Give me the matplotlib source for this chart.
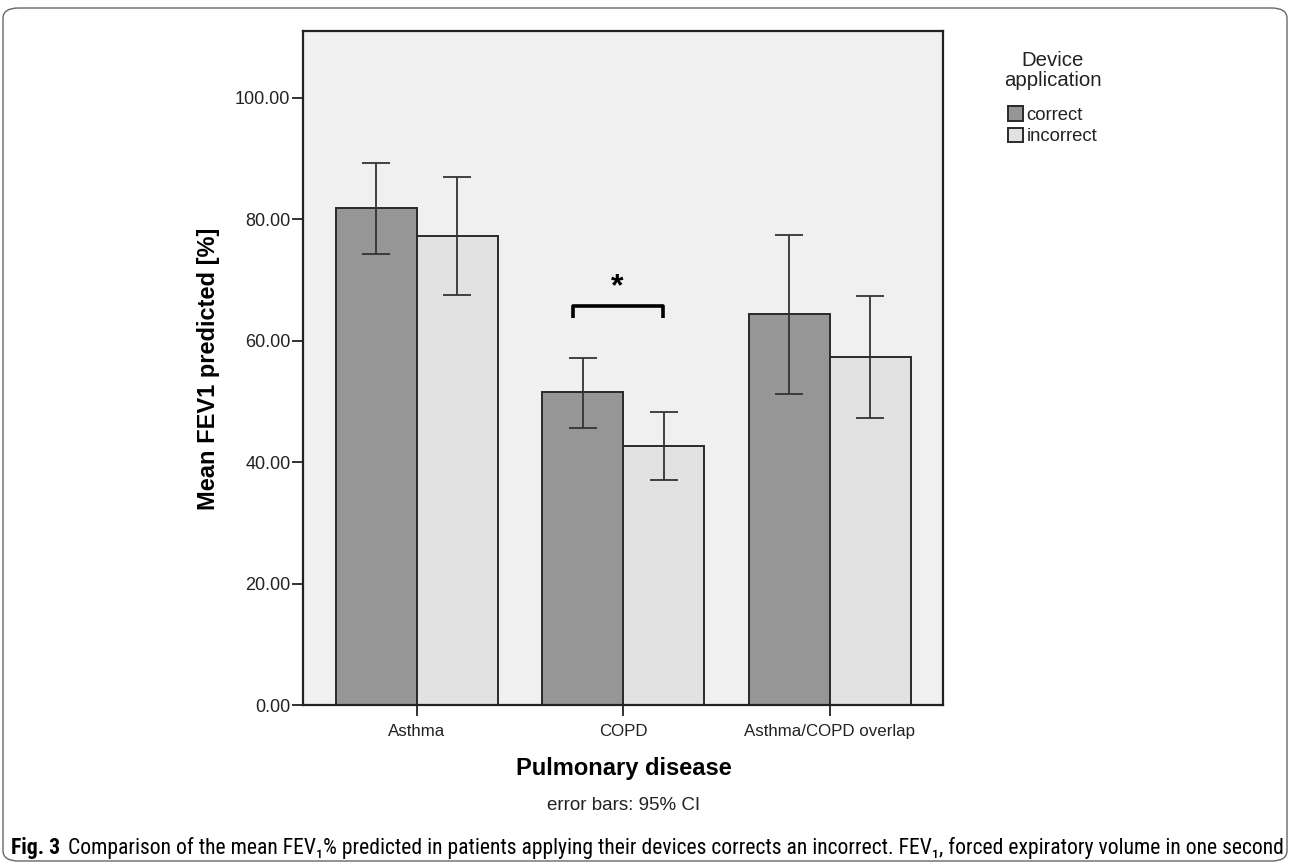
import matplotlib
matplotlib.use("Agg")
import matplotlib.pyplot as plt
import numpy as np
from matplotlib.patches import FancyBboxPatch, Patch

categories = ["Asthma", "COPD", "Asthma/COPD overlap"]
series = ["correct", "incorrect"]
means = {"correct": [81.9, 51.5, 64.4], "incorrect": [77.2, 42.7, 57.3]}
ci_low = {"correct": [74.3, 45.7, 51.3], "incorrect": [67.6, 37.0, 47.3]}
ci_high = {"correct": [89.2, 57.2, 77.4], "incorrect": [86.9, 48.2, 67.3]}
yticks = [0, 20, 40, 60, 80, 100]

colors = {"correct": "#969696", "incorrect": "#e2e2e2"}
FONT = ["Liberation Sans", "DejaVu Sans"]
W, H = 1290, 864
fig = plt.figure(figsize=(W / 100, H / 100), dpi=100)
fig.patch.set_facecolor("white")

ax = fig.add_axes([303 / W, 1 - 705 / H, (943 - 303) / W, (705 - 31) / H])
ax.set_facecolor("#f0f0f0")
x = np.arange(len(categories))
bw = 0.392
for i, s in enumerate(series):
    xs = x + (i - 0.5) * bw
    m = np.array(means[s])
    lo = m - np.array(ci_low[s])
    hi = np.array(ci_high[s]) - m
    ax.bar(xs, m, width=bw, color=colors[s], edgecolor="#2a2a2a", linewidth=1.4, zorder=2)
    ax.errorbar(xs, m, yerr=[lo, hi], fmt="none", ecolor="#333333", elinewidth=1.3,
                capsize=10, capthick=1.3, zorder=3)

ax.set_xlim(-0.552, 2.548)
ax.set_ylim(0, 111)
ax.set_yticks(yticks)
ax.set_yticklabels([f"{v:.2f}" for v in yticks], fontsize=13, color="#222222", family=FONT)
ax.set_xticks(x)
ax.set_xticklabels(categories, fontsize=12.2, color="#222222", family=FONT)
ax.tick_params(axis="both", length=8, width=1.3, color="#222222")
ax.tick_params(axis="x", pad=6)
ax.tick_params(axis="y", pad=1)
for sp in ax.spines.values():
    sp.set_linewidth(1.6)
    sp.set_color("#222222")

# significance bracket
ax.plot([0.755, 0.755, 1.19, 1.19], [63.8, 65.7, 65.7, 63.8], color="black", lw=2.6,
        solid_capstyle="butt", zorder=4)
ax.text(0.97, 66.3, "*", ha="center", va="bottom", fontsize=23, fontweight="bold", family=FONT)

fig.text(209 / W, 1 - 369 / H, "Mean FEV1 predicted [%]", rotation=90, ha="center", va="center",
         fontsize=17, fontweight="bold", family=FONT)
fig.text(624 / W, 1 - 769 / H, "Pulmonary disease", ha="center", va="center",
         fontsize=17, fontweight="bold", family=FONT)
fig.text(624 / W, 1 - 806 / H, "error bars: 95% CI", ha="center", va="center",
         fontsize=13.5, color="#222222", family=FONT)

handles = [Patch(facecolor=colors[s], edgecolor="#2a2a2a", linewidth=1.4) for s in series]
leg = fig.legend(handles, series, title="Device\napplication", loc="upper left",
                 bbox_to_anchor=(1004 / W, 1 - 51 / H), frameon=False,
                 handlelength=0.8, handleheight=0.8, handletextpad=0.2, labelspacing=0.2,
                 borderaxespad=0, borderpad=0,
                 prop={"family": FONT, "size": 13.3},
                 title_fontproperties={"family": FONT, "size": 14.7})
leg.get_title().set_color("#222222")
leg.get_title().set_multialignment("center")
leg.get_title().set_linespacing(1.05)
leg._legend_box.sep = 12
for t in leg.get_texts():
    t.set_color("#222222")

cap_font = ["Roboto Condensed", "Liberation Sans Narrow", "Liberation Sans", "DejaVu Sans"]
cap_rest = ("Comparison of the mean FEV\u2081% predicted in patients applying their devices corrects an incorrect. "
            "FEV\u2081, forced expiratory volume in one second")
cy = 1 - 848 / H
t1 = fig.text(11 / W, cy, "Fig. 3", ha="left", va="center", fontsize=13, fontweight="bold", family=cap_font)
t2 = fig.text(0, cy, cap_rest, ha="left", va="center", fontsize=13, family=cap_font)
fig.canvas.draw()
r = fig.canvas.get_renderer()
w1 = t1.get_window_extent(r).width
w2 = t2.get_window_extent(r).width
gap = 0.35 * 13 * 100 / 72
scale = (1282 - 11) / (w1 + w2 + gap)
fs = 13 * scale
t1.set_fontsize(fs)
t2.set_fontsize(fs)
fig.canvas.draw()
bb = t1.get_window_extent(r)
t2.set_x((bb.x1 + 0.35 * fs * 100 / 72) / W)

border = FancyBboxPatch((3 / W, 3 / H), (W - 6) / W, (H - 11) / H,
                        boxstyle="round,pad=0,rounding_size=0.012", transform=fig.transFigure,
                        facecolor="none", edgecolor="#666666", linewidth=1.0)
fig.patches.append(border)

fig.savefig("out.png", dpi=100)
